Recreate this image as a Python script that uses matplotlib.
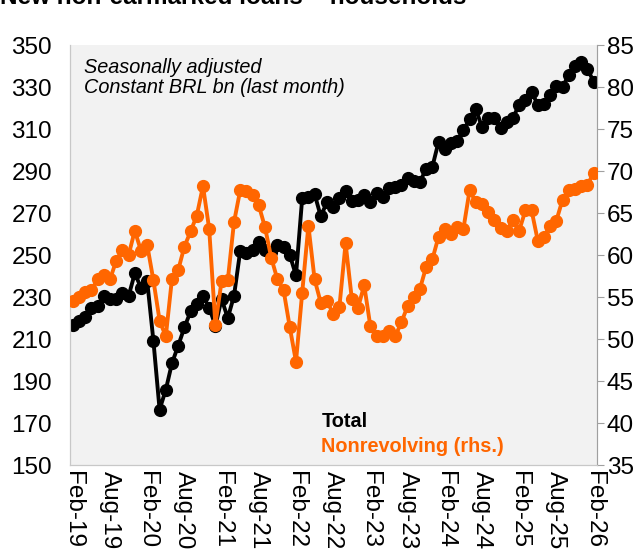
import numpy as np
import pandas as pd
import matplotlib
matplotlib.use("Agg")
import matplotlib.pyplot as plt

# monthly, Feb-19 .. Feb-26
months = pd.date_range("2019-02-01", "2026-02-01", freq="MS")

total = [
    216.8, 218.7, 220.6, 225.0, 225.8, 230.5, 229.0, 229.2, 231.8, 230.5,
    241.2, 234.5, 237.6, 209.2, 176.4, 185.8, 198.5, 206.8, 215.5, 223.1,
    226.6, 230.5, 225.0, 216.3, 229.0, 220.0, 230.5, 251.8, 251.0, 252.6,
    256.2, 252.6, 251.5, 255.0, 253.7, 250.0, 240.3, 277.0, 277.4, 279.0,
    268.4, 275.2, 273.0, 277.0, 280.7, 275.8, 276.3, 278.7, 275.2, 279.4,
    277.5, 281.8, 282.3, 283.1, 286.5, 285.4, 285.0, 291.0, 292.1, 303.9,
    300.4, 303.1, 304.4, 309.4, 314.6, 319.4, 311.0, 315.4, 315.3, 310.5,
    313.4, 315.3, 321.6, 323.6, 327.6, 321.6, 322.1, 326.0, 330.7, 330.0,
    335.8, 340.2, 341.8, 338.6, 332.6,
]

nonrevolving = [
    54.5, 55.0, 55.6, 55.8, 57.1, 57.6, 57.1, 59.3, 60.6, 60.0,
    62.9, 60.5, 61.2, 57.0, 52.2, 50.3, 57.2, 58.2, 61.0, 62.8,
    64.7, 68.2, 63.1, 51.7, 56.9, 57.0, 63.9, 67.7, 67.6, 67.2,
    65.9, 63.3, 59.7, 57.1, 55.8, 51.4, 47.3, 55.5, 63.5, 57.1,
    54.3, 54.5, 53.0, 53.8, 61.4, 54.8, 53.7, 56.4, 51.5, 50.4,
    50.4, 50.9, 50.3, 52.0, 53.9, 55.0, 56.0, 58.6, 59.5, 62.2,
    63.1, 62.5, 63.3, 63.1, 67.7, 66.3, 66.1, 65.1, 64.2, 63.2,
    62.9, 64.2, 62.9, 65.3, 65.3, 61.7, 62.2, 63.5, 64.1, 66.6,
    67.7, 67.9, 68.2, 68.3, 69.8,
]

tick_idx = list(range(0, len(months), 6))
tick_labels = [months[i].strftime("%b-%y") for i in tick_idx]

plt.rcParams["font.family"] = ["Liberation Sans", "DejaVu Sans"]

ORANGE = "#FF6600"
SPINE = "#C8C8C8"

fig = plt.figure(figsize=(6.41, 5.5), dpi=100)
ax = fig.add_axes([70 / 641, 1 - 465 / 550, 527 / 641, 420 / 550])
ax.set_facecolor("#F2F2F2")
x = np.arange(len(months))

ax.plot(x, total, color="black", lw=2.8, marker="o", ms=8.5, zorder=3)
ax.set_ylim(150, 350)
ax.set_yticks(range(150, 351, 20))
ax.set_xlim(-0.45, 84.55)
ax.set_xticks(tick_idx)
ax.set_xticklabels(tick_labels, rotation=-90, fontsize=17.5)
ax.tick_params(axis="x", length=0, pad=4)
ax.tick_params(axis="y", length=0, labelsize=17.5, pad=13)

ax2 = ax.twinx()
ax2.plot(x, nonrevolving, color=ORANGE, lw=2.8, marker="o", ms=8.5, zorder=3)
ax2.set_ylim(35, 85)
ax2.set_yticks(range(35, 86, 5))
ax2.tick_params(axis="y", length=5, color="#A0A0A0", labelsize=17.5, pad=2)

for a in (ax, ax2):
    for s in a.spines.values():
        s.set_color(SPINE)
    a.spines["top"].set_visible(False)
ax2.spines["right"].set_color("#A0A0A0")

ax.text(0.027, 0.97, "Seasonally adjusted\nConstant BRL bn (last month)",
        transform=ax.transAxes, style="italic", fontsize=14.3, va="top",
        linespacing=1.1)
ax.text(0.477, 0.09, "Total", transform=ax.transAxes, fontsize=14.3,
        fontweight="bold", color="black")
ax.text(0.477, 0.03, "Nonrevolving (rhs.)", transform=ax.transAxes,
        fontsize=14.3, fontweight="bold", color=ORANGE)

fig.text(0.0, 1 - 4 / 550, "New non-earmarked loans \u2013 households",
         fontsize=17.5, fontweight="bold", va="baseline")

fig.savefig("out.png", dpi=100)
